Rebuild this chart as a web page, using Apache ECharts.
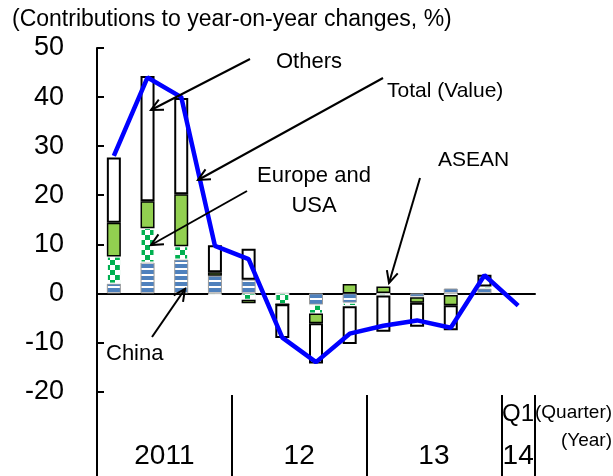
<!DOCTYPE html>
<html style="height: 100%; width:100%">
<head>
    <meta charset="utf-8">
    <script type="text/javascript" src="https://cdn.jsdelivr.net/npm/echarts@6/dist/echarts.min.js"></script>
</head>
<body style="height: 100%; width: 100%; margin: 0; background:#fff">
<div id="container" style="width:613px;height:476px"></div>
<script type="text/javascript">
// quarters 2011Q1 .. 2014Q1
var quarters = ['11Q1','11Q2','11Q3','11Q4','12Q1','12Q2','12Q3','12Q4','13Q1','13Q2','13Q3','13Q4','14Q1'];
var china  = [2.0, 6.3, 6.9, 3.6, 2.8, 0, -2.3, -1.9, 0.1, -0.7, 1.0, 1.0, null];
var asean  = [5.5, 7.0, 2.7, -0.3, -1.3, -2.2, -1.8, -0.7, -0.4, -0.1, -0.3, 0.4, null];
var euUsa  = [6.9, 5.5, 10.6, 0.7, -0.7, 0, -2.0, 1.9, 1.3, -1.1, -2.1, -0.3, null];
var others = [13.3, 25.5, 19.6, 5.5, 6.3, -6.9, -8.2, -7.7, -7.4, -4.9, -5.1, 2.4, null];
var total  = [28, 44, 40, 9.7, 7, -9, -14, -8.2, -6.6, -5.5, -7, 3.7, -2.5];

var yTicks = [-20, -10, 0, 10, 20, 30, 40, 50];
var years = ['2011', '12', '13', '14'];
var yearPos = [2, 6, 10, 12.5];
var yearBreaks = [4, 8, 12, 13];

var FONT = 'Liberation Sans, Arial, sans-serif';

function stripes() {
    var c = document.createElement('canvas');
    c.width = 6; c.height = 6;
    var ctx = c.getContext('2d');
    ctx.fillStyle = '#ffffff'; ctx.fillRect(0, 0, 6, 6);
    ctx.fillStyle = '#4f81bd'; ctx.fillRect(0, 0, 6, 4);
    return c;
}
function checker() {
    var c = document.createElement('canvas');
    c.width = 10; c.height = 10;
    var ctx = c.getContext('2d');
    ctx.fillStyle = '#ffffff'; ctx.fillRect(0, 0, 10, 10);
    ctx.fillStyle = '#00b050';
    ctx.fillRect(0, 0, 5, 5); ctx.fillRect(5, 5, 5, 5);
    return c;
}

function arrow(x1, y1, x2, y2) {
    var a = Math.atan2(y2 - y1, x2 - x1), h = 13, s = 0.45;
    return [
        {type: 'line', z: 100, shape: {x1: x1, y1: y1, x2: x2, y2: y2}, style: {stroke: '#000', lineWidth: 2}},
        {type: 'polyline', z: 100, shape: {points: [
            [x2 - h * Math.cos(a - s), y2 - h * Math.sin(a - s)], [x2, y2],
            [x2 - h * Math.cos(a + s), y2 - h * Math.sin(a + s)]]},
            style: {stroke: '#000', lineWidth: 2, fill: null}}
    ];
}
function label(txt, x, y, size, align) {
    return {type: 'text', z: 100, style: {text: txt, x: x, y: y, fill: '#000', font: size + 'px ' + FONT,
        textAlign: align || 'left', textVerticalAlign: 'middle'}};
}

var myChart = echarts.init(document.getElementById('container'));

var graphics = [
    label('(Contributions to year-on-year changes, %)', 12, 20, 23),
    label('Others', 276, 62, 22),
    label('Total (Value)', 387, 91, 21),
    label('ASEAN', 438, 160, 21),
    label('Europe and', 314, 176, 22, 'center'),
    label('USA', 314, 206, 22, 'center'),
    label('China', 106, 354, 22),
    label('Q1', 518, 414, 24, 'center'),
    label('(Quarter)', 535, 413, 19),
    label('(Year)', 612, 441, 19, 'right')
].concat(arrow(250, 59, 151, 110), arrow(383, 78, 198, 180), arrow(247, 191, 151, 245),
    arrow(152, 337, 185, 289), arrow(420, 178, 389, 283));

var option = {
    animation: false,
    backgroundColor: '#fff',
    grid: {left: 97, right: 78, top: 48, bottom: 0, containLabel: false},
    xAxis: [{
        type: 'category',
        data: quarters,
        axisLine: {onZero: true, lineStyle: {color: '#000', width: 2}},
        axisTick: {show: false},
        axisLabel: {show: false}
    }, {
        type: 'value',
        min: 0,
        max: 13,
        position: 'bottom',
        axisLine: {show: false, onZero: false},
        splitLine: {show: false},
        axisTick: {show: true, inside: true, length: 81, customValues: yearBreaks,
            lineStyle: {color: '#000', width: 2}},
        axisLabel: {inside: true, margin: 6, customValues: yearPos, fontSize: 28, color: '#000',
            fontFamily: FONT,
            formatter: function (v) { return years[yearPos.indexOf(v)]; }}
    }],
    yAxis: {
        type: 'value',
        min: -37.2,
        max: 50,
        axisLine: {show: true, lineStyle: {color: '#000', width: 2}},
        axisTick: {show: true, inside: true, length: 7, customValues: yTicks,
            lineStyle: {color: '#000', width: 2}},
        axisLabel: {customValues: yTicks, fontSize: 27, color: '#000', margin: 33, fontFamily: FONT},
        splitLine: {show: false}
    },
    series: [{
        name: 'China', type: 'bar', stack: 'c', barWidth: 14, data: china,
        itemStyle: {color: {image: stripes(), repeat: 'repeat'}, borderColor: '#999', borderWidth: 1}
    }, {
        name: 'ASEAN', type: 'bar', stack: 'c', barWidth: 14, data: asean,
        itemStyle: {color: {image: checker(), repeat: 'repeat'}, borderColor: '#fff', borderWidth: 1}
    }, {
        name: 'Europe and USA', type: 'bar', stack: 'c', barWidth: 14, data: euUsa,
        itemStyle: {color: '#92d050', borderColor: '#000', borderWidth: 1.5}
    }, {
        name: 'Others', type: 'bar', stack: 'c', barWidth: 14, data: others,
        itemStyle: {color: '#fff', borderColor: '#000', borderWidth: 2}
    }, {
        name: 'Total (Value)', type: 'line', data: total, symbol: 'none', z: 5,
        lineStyle: {color: '#0000ff', width: 4.5}
    }],
    graphic: graphics
};
myChart.setOption(option);
</script>
</body>
</html>
